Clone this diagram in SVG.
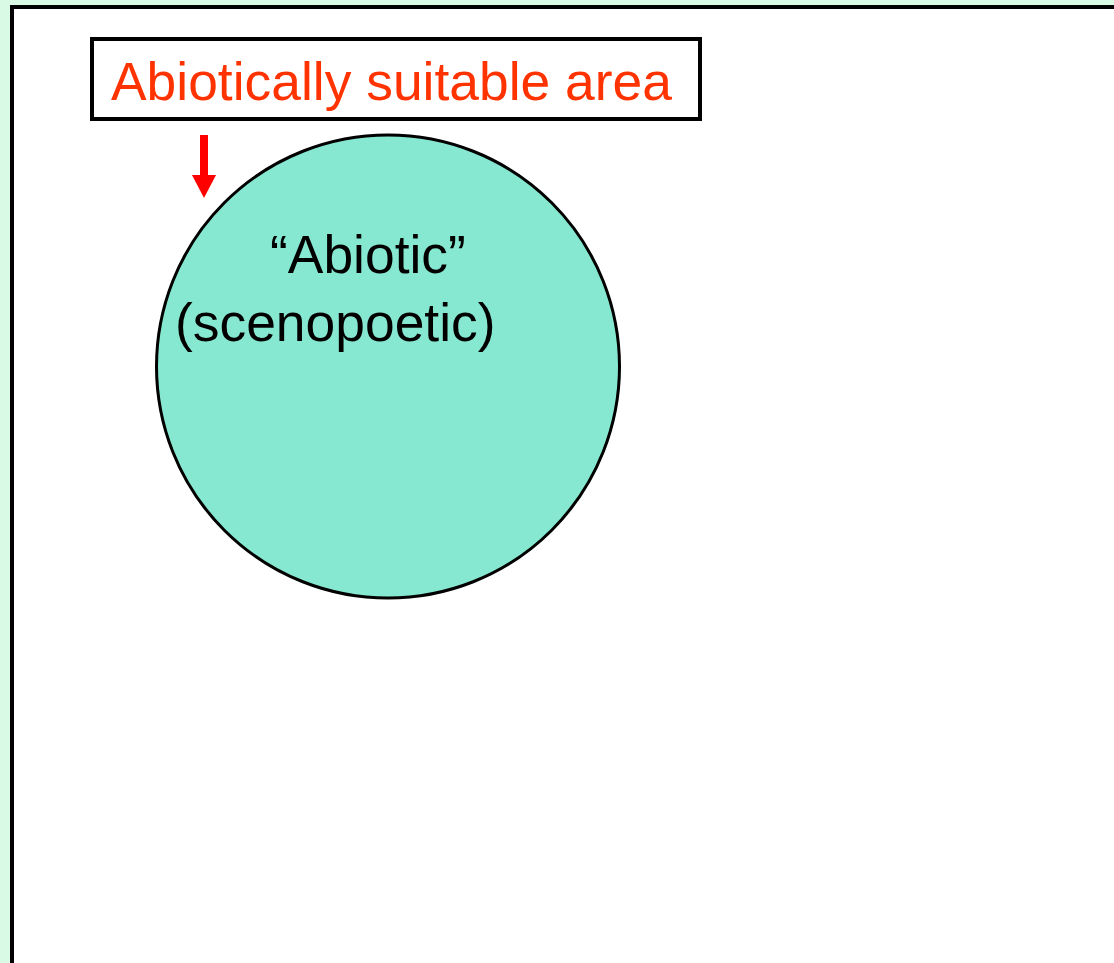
<svg xmlns="http://www.w3.org/2000/svg" width="1114" height="963" viewBox="0 0 1114 963">
<style>
.lbl{font-family:"Liberation Sans",Arial,sans-serif;font-size:53.4px}
.arrow{fill:#FF0000}
</style>
<rect x="0" y="0" width="1114" height="963" fill="#D9FBE5"/>
<rect x="12" y="7" width="1120" height="980" fill="#FFFFFF" stroke="#000000" stroke-width="4"/>
<g id="label-box">
<rect x="92" y="39" width="608" height="80" fill="#FFFFFF" stroke="#000000" stroke-width="4"/>
<text class="lbl" x="111" y="100" fill="#FF3300">Abiotically suitable area</text>
</g>
<g id="connectors">
<path d="M204,135 L204,176" stroke="#FF0000" stroke-width="8" fill="none"/>
<path class="arrow" d="M192,175 L216,175 L204,198 Z"/>
</g>
<g id="abiotic-circle">
<circle cx="388" cy="366.5" r="231.5" fill="#87E8D1" stroke="#000000" stroke-width="3"/>
<text class="lbl" x="270" y="273" fill="#000000">“Abiotic”</text>
<text class="lbl" x="175" y="341" fill="#000000">(scenopoetic)</text>
</g>
</svg>
